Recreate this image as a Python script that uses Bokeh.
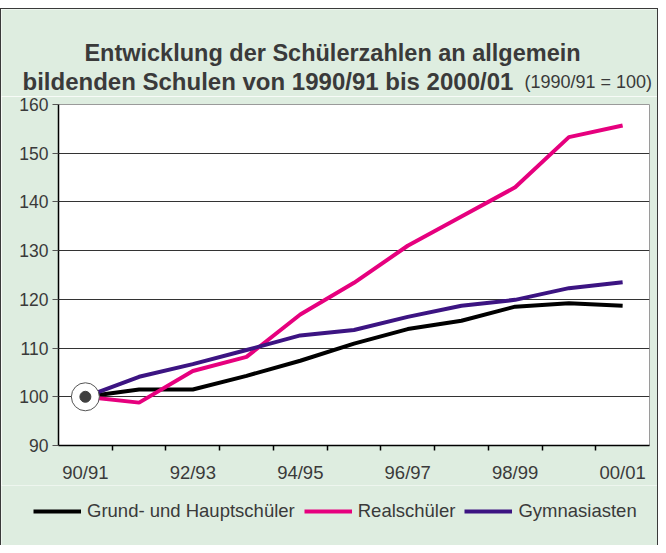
from bokeh.plotting import figure
from bokeh.layouts import column, row
from bokeh.models import Range1d, FixedTicker, Legend, LegendItem
from bokeh.core.properties import value
from bokeh.embed import file_html
from bokeh.resources import INLINE

categories = ["90/91", "91/92", "92/93", "93/94", "94/95", "95/96",
              "96/97", "97/98", "98/99", "99/00", "00/01"]
grund = [100, 101.5, 101.5, 104.3, 107.4, 110.9, 113.9, 115.6, 118.5, 119.2, 118.7]
real = [100, 98.8, 105.3, 108.2, 116.9, 123.4, 131.0, 137.0, 143.0, 153.3, 155.7]
gym = [100, 104.1, 106.7, 109.6, 112.6, 113.7, 116.4, 118.7, 119.9, 122.3, 123.5]
series_names = ["Grund- und Hauptschüler", "Realschüler", "Gymnasiasten"]
series_colors = ["#000000", "#e6007e", "#3c1482"]
y_ticks = [90, 100, 110, 120, 130, 140, 150, 160]
labelled = ["90/91", "92/93", "94/95", "96/97", "98/99", "00/01"]
base_value = 100
title_line1 = "Entwicklung der Schülerzahlen an allgemein"
title_line2 = "bildenden Schulen von 1990/91 bis 2000/01"
title_note = "(1990/91 = 100)"

BG = "#deede0"
TXT = "#3a3a3a"
FONT = "Liberation Sans"
W = 656


def strip(height, x_range, y_range):
    f = figure(width=W, height=height, output_backend="svg", toolbar_location=None,
               x_range=x_range, y_range=y_range, x_axis_type=None, y_axis_type=None,
               min_border_left=0, min_border_right=0, min_border_top=0, min_border_bottom=0)
    f.border_fill_color = BG
    f.background_fill_color = BG
    f.outline_line_color = None
    f.grid.grid_line_color = None
    return f


# ---- title strip (pixel coordinates, y from top) ----
TH = 87
pt = strip(TH, Range1d(0, W), Range1d(TH, 0))
pt.text(x=[331], y=[43], text=[title_line1], text_align="center", text_baseline="alphabetic",
        text_font=value(FONT), text_font_style="bold", text_font_size="23.5px", text_color=TXT)
pt.text(x=[21], y=[72], text=[title_line2], text_align="left", text_baseline="alphabetic",
        text_font=value(FONT), text_font_style="bold", text_font_size="24px", text_color=TXT)
pt.text(x=[523], y=[72], text=[title_note], text_align="left", text_baseline="alphabetic",
        text_font=value(FONT), text_font_size="18px", text_color=TXT)

# ---- main chart ----
xs = list(range(len(categories)))
MH = 389
p = figure(width=W, height=MH, output_backend="svg", toolbar_location=None,
           x_range=Range1d(-0.5, len(categories) - 0.5),
           y_range=Range1d(y_ticks[0], y_ticks[-1]),
           min_border_left=57, min_border_right=8, min_border_top=8, min_border_bottom=40)
p.border_fill_color = BG
p.background_fill_color = "white"
p.outline_line_color = "#9a9a9a"
p.outline_line_width = 1

p.xaxis.ticker = FixedTicker(ticks=[categories.index(c) for c in labelled],
                             minor_ticks=[i + 0.5 for i in range(len(categories) - 1)])
p.xaxis.major_label_overrides = {categories.index(c): c for c in labelled}
p.xaxis.major_tick_out = 0
p.xaxis.major_tick_in = 0
p.xaxis.minor_tick_out = 5
p.xaxis.minor_tick_in = 0
p.xaxis.minor_tick_line_color = "black"
p.xaxis.minor_tick_line_width = 1.5
p.xaxis.axis_line_color = "black"
p.xaxis.axis_line_width = 1.5
p.xaxis.major_label_standoff = 11
p.xaxis.major_label_text_font = FONT
p.xaxis.major_label_text_font_size = "18.5px"
p.xaxis.major_label_text_color = TXT

p.yaxis.ticker = FixedTicker(ticks=y_ticks, minor_ticks=[])
p.yaxis.major_tick_out = 6
p.yaxis.major_tick_in = 0
p.yaxis.major_tick_line_color = "#555555"
p.yaxis.major_tick_line_width = 1.2
p.yaxis.axis_line_color = "black"
p.yaxis.axis_line_width = 1.5
p.yaxis.major_label_standoff = 4
p.yaxis.major_label_text_font = FONT
p.yaxis.major_label_text_font_size = "17.5px"
p.yaxis.major_label_text_color = TXT

p.xgrid.grid_line_color = None
p.ygrid.ticker = FixedTicker(ticks=y_ticks[1:-1])
p.ygrid.grid_line_color = "#333333"
p.ygrid.grid_line_width = 1.2

for vals, col in zip([grund, real, gym], series_colors):
    p.line(xs, vals, line_color=col, line_width=4)

# start marker (1990/91 = 100)
p.scatter([xs[0]], [base_value], size=28, marker="circle", fill_color="white",
          line_color="#555555", line_width=1)
p.scatter([xs[0]], [base_value], size=11, marker="circle", fill_color="#404040",
          line_color="#404040")

# ---- legend strip ----
LH = 545 - 9 - TH - MH
pl = strip(LH, Range1d(0, 1), Range1d(0, 1))
items = []
for name, col in zip(series_names, series_colors):
    r = pl.line(x=[float("nan")], y=[float("nan")], line_color=col, line_width=4)
    items.append(LegendItem(label=name, renderers=[r]))
legend = Legend(items=items, orientation="horizontal", location=(32, 23),
                glyph_width=48, glyph_height=20, label_standoff=6, spacing=9,
                padding=0, margin=0,
                background_fill_alpha=0, border_line_color=None,
                label_text_font=FONT, label_text_font_size="18.5px",
                label_text_color=TXT)
pl.add_layout(legend, "center")

inner = column(row(pt), row(p), row(pl), spacing=0,
               styles={"border-top": "1px solid #3a3a3a",
                       "border-left": "1px solid #3a3a3a",
                       "border-right": "1px solid #3a3a3a"})
layout = column(inner, styles={"padding-top": "8px", "background-color": "white"})
open("out.html", "w").write(file_html(layout, INLINE))
